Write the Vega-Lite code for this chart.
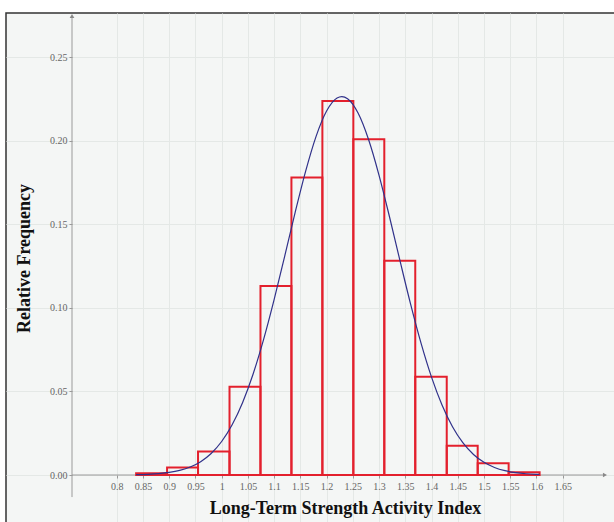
{
  "$schema": "https://vega.github.io/schema/vega-lite/v6.json",
  "width": 610,
  "height": 512,
  "autosize": {"type": "none"},
  "padding": {"left": 6, "top": 13, "right": 0, "bottom": 0},
  "background": "white",
  "config": {
    "view": {"fill": "#f4f6f5", "stroke": "#333333", "strokeWidth": 1.5},
    "axis": {"labelFont": "Liberation Serif", "labelFontSize": 10, "labelColor": "#666666", "tickColor": "#999999", "gridColor": "#e4e8e6", "gridWidth": 1, "labelOverlap": false, "titleFont": "Liberation Serif", "titleFontWeight": "bold", "titleFontSize": 18, "titleColor": "#111111"}
  },
  "datasets": {
    "bins": [
      {"start": 0.837, "end": 0.896, "freq": 0.0010},
      {"start": 0.896, "end": 0.955, "freq": 0.0045},
      {"start": 0.955, "end": 1.015, "freq": 0.0140},
      {"start": 1.015, "end": 1.074, "freq": 0.0528},
      {"start": 1.074, "end": 1.133, "freq": 0.1130},
      {"start": 1.133, "end": 1.192, "freq": 0.1780},
      {"start": 1.192, "end": 1.251, "freq": 0.2237},
      {"start": 1.251, "end": 1.310, "freq": 0.2008},
      {"start": 1.310, "end": 1.369, "freq": 0.1282},
      {"start": 1.369, "end": 1.429, "freq": 0.0588},
      {"start": 1.429, "end": 1.488, "freq": 0.0175},
      {"start": 1.488, "end": 1.547, "freq": 0.0070},
      {"start": 1.547, "end": 1.606, "freq": 0.0016}
    ],
    "curve": [
      {"start": 0.837, "freq": 0.00019},
      {"start": 0.86, "freq": 0.00042},
      {"start": 0.88, "freq": 0.00081},
      {"start": 0.90, "freq": 0.00152},
      {"start": 0.92, "freq": 0.00274},
      {"start": 0.94, "freq": 0.00476},
      {"start": 0.96, "freq": 0.00798},
      {"start": 0.98, "freq": 0.01288},
      {"start": 1.00, "freq": 0.02004},
      {"start": 1.02, "freq": 0.03005},
      {"start": 1.04, "freq": 0.04340},
      {"start": 1.06, "freq": 0.06043},
      {"start": 1.08, "freq": 0.08109},
      {"start": 1.10, "freq": 0.10486},
      {"start": 1.12, "freq": 0.13066},
      {"start": 1.14, "freq": 0.15691},
      {"start": 1.16, "freq": 0.18159},
      {"start": 1.18, "freq": 0.20253},
      {"start": 1.20, "freq": 0.21767},
      {"start": 1.22, "freq": 0.22545},
      {"start": 1.229, "freq": 0.22630},
      {"start": 1.24, "freq": 0.22504},
      {"start": 1.26, "freq": 0.21647},
      {"start": 1.28, "freq": 0.20066},
      {"start": 1.30, "freq": 0.17926},
      {"start": 1.32, "freq": 0.15432},
      {"start": 1.34, "freq": 0.12803},
      {"start": 1.36, "freq": 0.10237},
      {"start": 1.38, "freq": 0.07888},
      {"start": 1.40, "freq": 0.05856},
      {"start": 1.42, "freq": 0.04190},
      {"start": 1.44, "freq": 0.02890},
      {"start": 1.46, "freq": 0.01920},
      {"start": 1.48, "freq": 0.01230},
      {"start": 1.50, "freq": 0.00759},
      {"start": 1.52, "freq": 0.00452},
      {"start": 1.54, "freq": 0.00259},
      {"start": 1.56, "freq": 0.00143},
      {"start": 1.58, "freq": 0.00076},
      {"start": 1.60, "freq": 0.00039},
      {"start": 1.606, "freq": 0.00032}
    ]
  },
  "layer": [
    {
      "data": {"values": [{}]},
      "mark": {"type": "rule", "color": "#9a9a9a", "strokeWidth": 1},
      "encoding": {
        "x": {"datum": 0.7148, "type": "quantitative"},
        "x2": {"datum": 1.7306},
        "y": {"datum": 0, "type": "quantitative"}
      }
    },
    {
      "data": {"values": [{}]},
      "mark": {"type": "rule", "color": "#9a9a9a", "strokeWidth": 1},
      "encoding": {
        "x": {"datum": 0.7148, "type": "quantitative"},
        "y": {"datum": -0.0132, "type": "quantitative"},
        "y2": {"datum": 0.2745}
      }
    },
    {
      "data": {"name": "bins"},
      "mark": {"type": "rect", "fill": null, "fillOpacity": 0, "stroke": "#e3202d", "strokeWidth": 2},
      "encoding": {
        "x": {
          "field": "start", "type": "quantitative",
          "scale": {"domain": [0.589, 1.7516], "nice": false, "zero": false},
          "axis": {
            "title": "Long-Term Strength Activity Index",
            "values": [0.8, 0.85, 0.9, 0.95, 1, 1.05, 1.1, 1.15, 1.2, 1.25, 1.3, 1.35, 1.4, 1.45, 1.5, 1.55, 1.6, 1.65],
            "tickCount": 40,
            "format": "~g",
            "labelOverlap": false,
            "offset": -50,
            "domain": false,
            "tickSize": 3,
            "labelPadding": 3,
            "grid": true,
            "titleX": 339,
            "titleY": 33,
            "titleBaseline": "middle",
            "titleAnchor": null,
            "titleAlign": "center"
          }
        },
        "x2": {"field": "end"},
        "y": {
          "field": "freq", "type": "quantitative",
          "scale": {"domain": [-0.0299, 0.27632], "nice": false, "zero": false},
          "axis": {
            "title": "Relative Frequency",
            "values": [0, 0.05, 0.1, 0.15, 0.2, 0.25],
            "tickCount": 20,
            "format": ".2f",
            "labelOverlap": false,
            "offset": -66,
            "domain": false,
            "tickSize": 3,
            "labelPadding": 2,
            "grid": true,
            "titleX": -48,
            "titleY": 245,
            "titleAngle": -90,
            "titleBaseline": "middle",
            "titleAlign": "center",
            "titleAnchor": null
          }
        },
        "y2": {"datum": 0}
      }
    },
    {
      "data": {"name": "curve"},
      "mark": {"type": "line", "color": "#30318a", "strokeWidth": 1.2, "interpolate": "monotone"},
      "encoding": {
        "x": {"field": "start", "type": "quantitative"},
        "y": {"field": "freq", "type": "quantitative"}
      }
    },
    {
      "data": {"values": [{}]},
      "mark": {"type": "point", "shape": "triangle-up", "filled": true, "color": "#888888", "size": 22, "opacity": 1},
      "encoding": {
        "x": {"datum": 0.7148, "type": "quantitative"},
        "y": {"datum": 0.2745, "type": "quantitative"}
      }
    },
    {
      "data": {"values": [{}]},
      "mark": {"type": "point", "shape": "triangle-right", "filled": true, "color": "#888888", "size": 22, "opacity": 1},
      "encoding": {
        "x": {"datum": 1.7306, "type": "quantitative"},
        "y": {"datum": 0, "type": "quantitative"}
      }
    }
  ]
}
